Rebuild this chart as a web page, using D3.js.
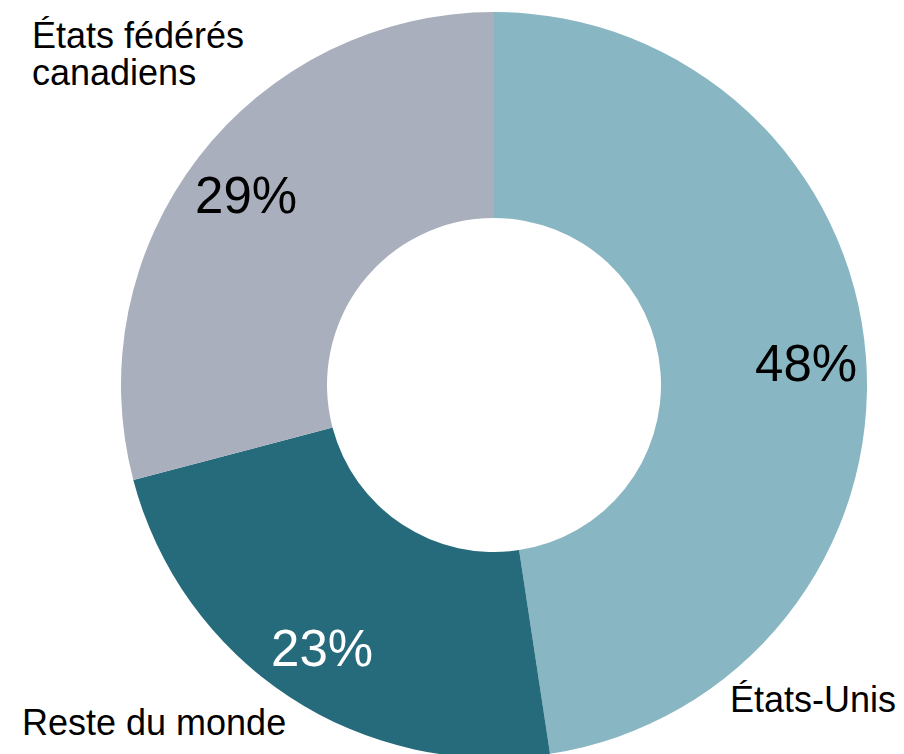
<!DOCTYPE html>
<html>
<head>
<meta charset="utf-8">
<script src="https://cdn.jsdelivr.net/npm/d3@7"></script>
<style>
  html, body { margin: 0; padding: 0; background: #fff; }
  svg { display: block; }
  text { font-family: "Liberation Sans", Arial, sans-serif; }
</style>
</head>
<body>
<svg width="904" height="754"></svg>
<script>
var categories = ['États-Unis', 'Reste du monde', 'États fédérés canadiens']
var values = [47.6, 23.3, 29.1]
var colors = ['#88b6c3', '#256b7c', '#a9afbc']
var labelColors = ['#000', '#fff', '#000']

var svg = d3.select("svg"),
    width = +svg.attr("width"),
    height = +svg.attr("height")

var cx = 494, cy = 385,
    outerR = 373, innerR = 167, pctR = 313

var fmt = d3.format(".0f")

var pie = d3.pie()
  .sort(null)
  .value(function (d) { return d })

var arc = d3.arc()
  .innerRadius(innerR)
  .outerRadius(outerR)

var labelArc = d3.arc()
  .innerRadius(pctR)
  .outerRadius(pctR)

var g = svg.append("g")
  .attr("transform", "translate(" + cx + "," + cy + ")")

var arcs = pie(values)

g.selectAll("path")
  .data(arcs)
  .enter().append("path")
    .attr("d", arc)
    .style("fill", function (d, i) { return colors[i] })

g.selectAll("text.pct")
  .data(arcs)
  .enter().append("text")
    .attr("class", "pct")
    .attr("transform", function (d) { return "translate(" + labelArc.centroid(d) + ")" })
    .attr("text-anchor", "middle")
    .attr("dy", "0.38em")
    .style("font-size", "51px")
    .style("fill", function (d, i) { return labelColors[i] })
    .text(function (d) { return fmt(d.data) + '%' })

// category labels sit in the corners, placed by hand like the original
var catPos = [
  { x: 730, y: 712, lines: [categories[0]] },
  { x: 22, y: 735, lines: [categories[1]] },
  { x: 32, y: 48, lines: ['États fédérés', 'canadiens'] }
]

svg.selectAll("text.cat")
  .data(catPos)
  .enter().append("text")
    .attr("class", "cat")
    .attr("x", function (d) { return d.x })
    .attr("y", function (d) { return d.y })
    .style("font-size", "36px")
    .style("fill", "#000")
  .selectAll("tspan")
  .data(function (d) { return d.lines.map(function (l) { return { x: d.x, t: l } }) })
  .enter().append("tspan")
    .attr("x", function (d) { return d.x })
    .attr("dy", function (d, i) { return i ? 37 : 0 })
    .text(function (d) { return d.t })
</script>
</body>
</html>
